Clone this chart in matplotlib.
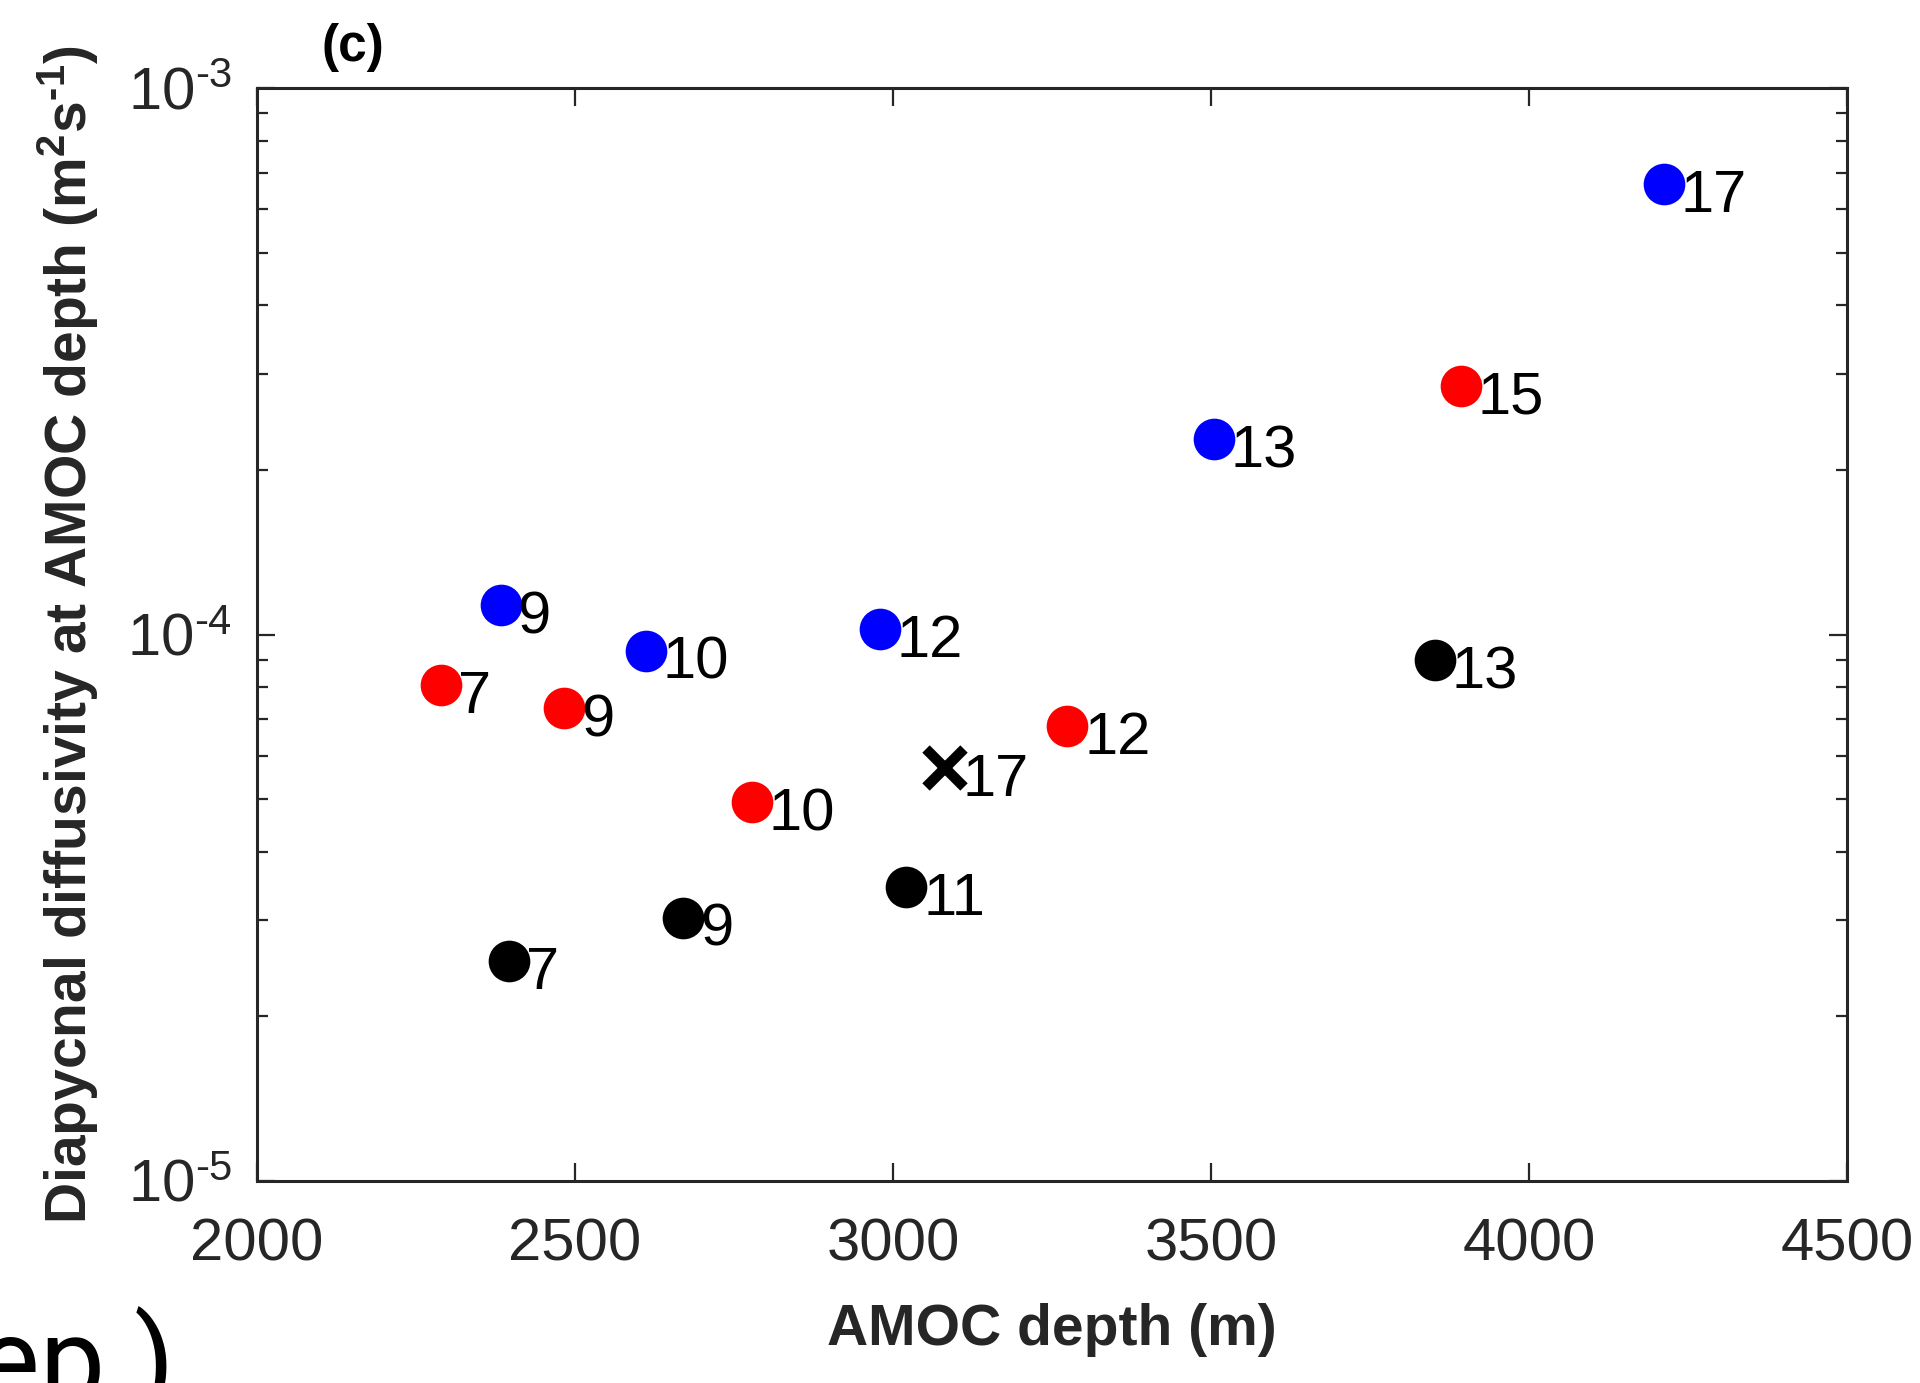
import numpy as np
import matplotlib
matplotlib.use('Agg')
import matplotlib.pyplot as plt
from matplotlib.ticker import LogLocator, NullFormatter, FixedLocator, FuncFormatter

plt.rcParams['font.family'] = ['Liberation Sans', 'DejaVu Sans']
plt.rcParams['mathtext.fontset'] = 'custom'
plt.rcParams['mathtext.rm'] = 'Liberation Sans'
plt.rcParams['mathtext.bf'] = 'Liberation Sans:bold'
plt.rcParams['mathtext.default'] = 'regular'
plt.rcParams['axes.unicode_minus'] = False

HY = '\u2010'  # short hyphen for exponents

# AMOC depth (m) and diapycnal diffusivity (m2/s) per run, grouped by colour
blue_depth = [2383, 2611, 2979, 3504, 4212]
blue_kappa = [1.13e-4, 9.34e-5, 1.022e-4, 2.275e-4, 6.67e-4]
blue_lbl = ['9', '10', '12', '13', '17']

red_depth = [2289, 2483, 2778, 3274, 3893]
red_kappa = [8.08e-5, 7.33e-5, 4.93e-5, 6.80e-5, 2.85e-4]
red_lbl = ['7', '9', '10', '12', '15']

black_depth = [2396, 2670, 3021, 3852]
black_kappa = [2.53e-5, 3.03e-5, 3.456e-5, 8.98e-5]
black_lbl = ['7', '9', '11', '13']

cross_depth = [3082]
cross_kappa = [5.69e-5]
cross_lbl = ['17']

fig = plt.figure(figsize=(19.2, 13.83), dpi=100)
ax = fig.add_axes([257 / 1920, 1 - 1181 / 1383, 1590 / 1920, 1093 / 1383])

def put_labels(xs, ys, labels):
    for x, y, s in zip(xs, ys, labels):
        ax.annotate(s, (x, y), xytext=(17, -28), textcoords='offset pixels',
                    ha='left', va='baseline', fontsize=43, color='black')

ax.plot(blue_depth, blue_kappa, 'o', color='#0000ff', ms=30, mew=0)
ax.plot(red_depth, red_kappa, 'o', color='#ff0000', ms=30, mew=0)
ax.plot(black_depth, black_kappa, 'o', color='black', ms=30, mew=0)
ax.plot(cross_depth, cross_kappa, 'x', color='black', ms=28, mew=7.5)

put_labels(blue_depth, blue_kappa, blue_lbl)
put_labels(red_depth, red_kappa, red_lbl)
put_labels(black_depth, black_kappa, black_lbl)
put_labels(cross_depth, cross_kappa, cross_lbl)

def pow10(v, pos):
    e = int(round(np.log10(v)))
    sign = HY if e < 0 else ''
    return r'$\mathdefault{10^{%s%d}}$' % (sign, abs(e))

ax.set_yscale('log')
ax.set_xlim(2000, 4500)
ax.set_ylim(1e-5, 1e-3)
ax.xaxis.set_major_locator(FixedLocator([2000, 2500, 3000, 3500, 4000, 4500]))
ax.yaxis.set_major_locator(LogLocator(base=10))
ax.yaxis.set_major_formatter(FuncFormatter(pow10))
ax.yaxis.set_minor_locator(LogLocator(base=10, subs=np.arange(2, 10)))
ax.yaxis.set_minor_formatter(NullFormatter())

axcol = '#262626'
for sp in ax.spines.values():
    sp.set_color(axcol)
    sp.set_linewidth(2.2)
ax.tick_params(which='both', direction='in', top=True, right=True, colors=axcol)
ax.tick_params(which='major', length=13, width=1.6, labelsize=43, labelcolor='#262626')
ax.tick_params(which='minor', length=8, width=1.6)
ax.tick_params(axis='x', which='major', pad=26)
ax.tick_params(axis='y', which='major', pad=18)

ax.set_xlabel('AMOC depth (m)', fontsize=41, fontweight='bold', color='#262626', labelpad=22)
ax.set_ylabel(r'Diapycnal diffusivity at AMOC depth (m$^{\mathbf{2}}$s$^{\mathbf{' + HY + r'1}}$)',
              fontsize=41, fontweight='bold', color='#262626', labelpad=19)

fig.text(321 / 1920, 1 - 48 / 1383, '(c)', fontsize=37, fontweight='bold',
         ha='left', va='center', color='black')
fig.text(-22 / 1920, 1 - 1400 / 1383, 'ep )', fontsize=84, family=['Roboto', 'DejaVu Sans'],
         ha='left', va='baseline', color='black')

fig.savefig('out.png', dpi=100)
